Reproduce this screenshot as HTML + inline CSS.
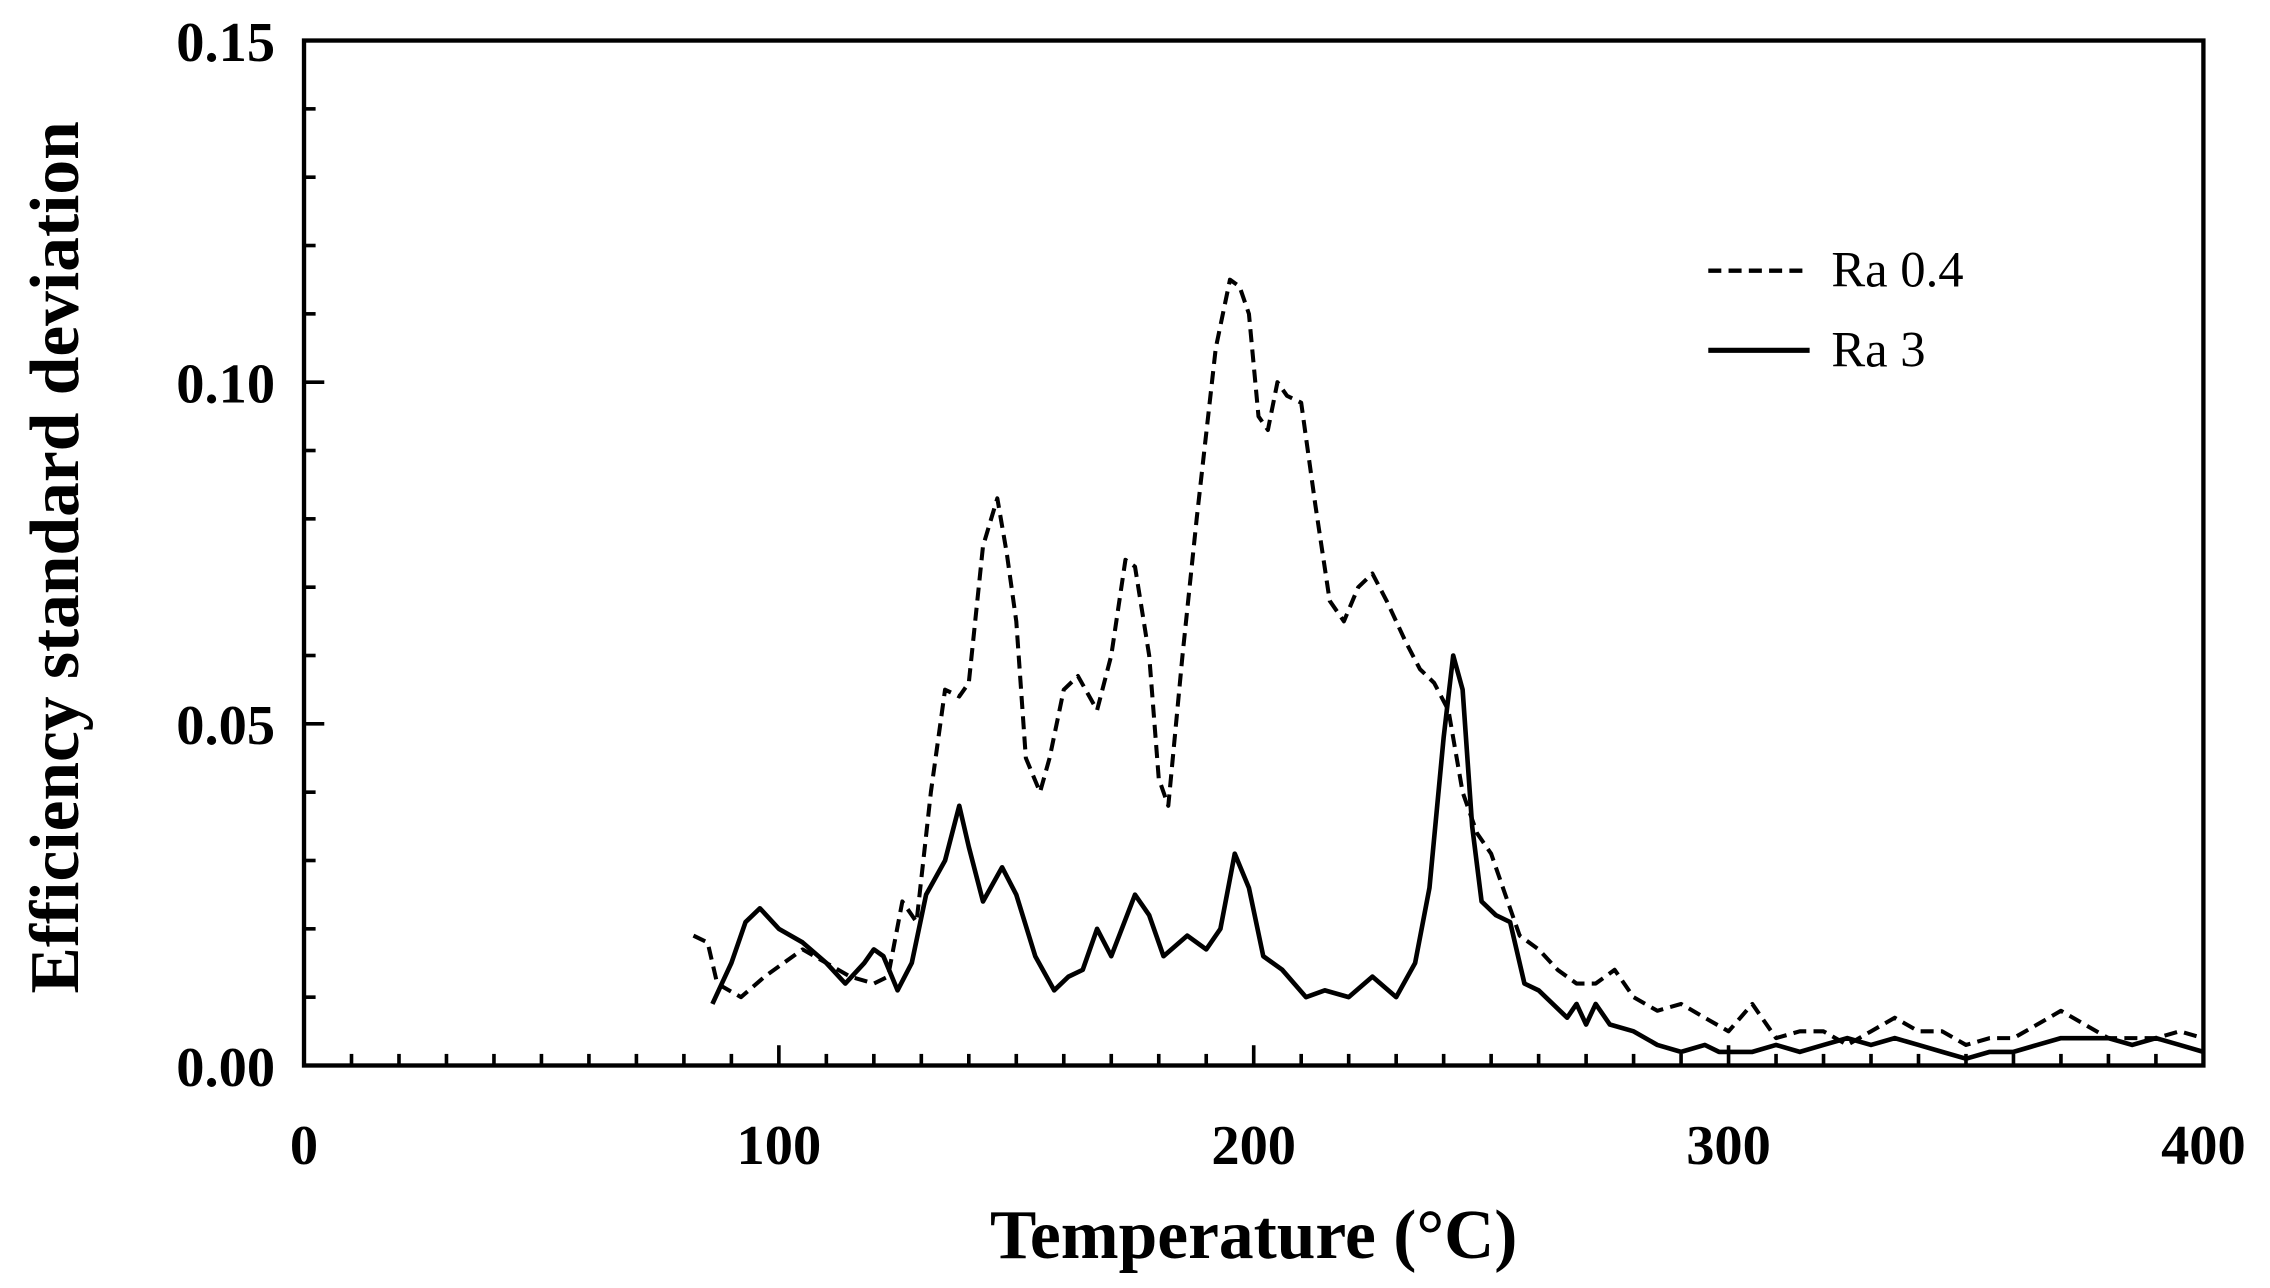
<!DOCTYPE html>
<html><head><meta charset="utf-8"><style>
html,body{margin:0;padding:0;background:#fff;}
svg{display:block;}
</style></head><body>
<svg id="s" width="2270" height="1288" viewBox="0 0 1568 889.7" preserveAspectRatio="none" xmlns="http://www.w3.org/2000/svg" font-family="Liberation Serif, serif">
<rect width="1568" height="890" fill="#fff"/>
<g id="ticks" stroke="#000" stroke-width="2.5"></g>
<rect x="210" y="28" width="1312" height="708" fill="none" stroke="#000" stroke-width="3"/>
<g font-weight="bold" font-size="39" text-anchor="end">
<text x="190" y="750">0.00</text>
<text x="190" y="514">0.05</text>
<text x="190" y="278">0.10</text>
<text x="190" y="42">0.15</text>
</g>
<g font-weight="bold" font-size="39" text-anchor="middle">
<text x="210" y="804">0</text>
<text x="538" y="804">100</text>
<text x="866" y="804">200</text>
<text x="1194" y="804">300</text>
<text x="1522" y="804">400</text>
</g>
<text x="866" y="869" font-weight="bold" font-size="48" text-anchor="middle">Temperature (°C)</text>
<text transform="translate(54,385) rotate(-90)" font-weight="bold" font-size="48" text-anchor="middle">Efficiency standard deviation</text>
<line x1="1180" y1="187" x2="1250" y2="187" stroke="#000" stroke-width="3" stroke-dasharray="9,5"/>
<text x="1265" y="198" font-size="35">Ra 0.4</text>
<line x1="1180" y1="242" x2="1250" y2="242" stroke="#000" stroke-width="3.5"/>
<text x="1265" y="253" font-size="35">Ra 3</text>
<polyline id="d" fill="none" stroke="#000" stroke-width="2.8" stroke-dasharray="9,5" stroke-linejoin="round"/>
<polyline id="l" fill="none" stroke="#000" stroke-width="3.2" stroke-linejoin="round"/>
</svg>
<script>
var X=function(t){return 210+t*3.28},Y=function(v){return 736-v*4720};
var d=[82,.019,85,.018,87,.012,92,.010,97,.013,105,.017,110,.015,115,.013,120,.012,123,.013,126,.024,129,.021,132,.040,135,.055,138,.054,140,.056,143,.076,146,.083,148,.075,150,.065,152,.045,155,.040,157,.045,160,.055,163,.057,167,.052,170,.060,173,.074,175,.073,178,.060,180,.042,182,.038,185,.060,188,.080,192,.105,195,.115,197,.114,199,.110,201,.095,203,.093,205,.100,207,.098,210,.097,213,.082,216,.068,219,.065,222,.070,225,.072,228,.068,232,.062,235,.058,238,.056,241,.052,244,.040,247,.034,250,.031,253,.025,256,.019,260,.017,264,.014,268,.012,272,.012,276,.014,280,.010,285,.008,290,.009,295,.007,300,.005,305,.009,310,.004,315,.005,320,.005,325,.003,330,.005,335,.007,340,.005,345,.005,350,.003,355,.004,360,.004,365,.006,370,.008,375,.006,380,.004,385,.004,390,.004,395,.005,400,.004];
var l=[86,.009,88,.012,90,.015,93,.021,96,.023,100,.020,105,.018,110,.015,114,.012,118,.015,120,.017,122,.016,125,.011,128,.015,131,.025,135,.030,138,.038,140,.032,143,.024,147,.029,150,.025,154,.016,158,.011,161,.013,164,.014,167,.020,170,.016,175,.025,178,.022,181,.016,186,.019,190,.017,193,.020,196,.031,199,.026,202,.016,206,.014,211,.010,215,.011,220,.010,225,.013,230,.010,234,.015,237,.026,240,.048,242,.060,244,.055,246,.035,248,.024,251,.022,254,.021,257,.012,260,.011,263,.009,266,.007,268,.009,270,.006,272,.009,275,.006,280,.005,285,.003,290,.002,295,.003,298,.002,300,.002,305,.002,310,.003,315,.002,320,.003,325,.004,330,.003,335,.004,340,.003,345,.002,350,.001,355,.002,360,.002,365,.003,370,.004,375,.004,380,.004,385,.003,390,.004,395,.003,400,.002];
function pts(a){var s=[];for(var i=0;i<a.length;i+=2)s.push(X(a[i]).toFixed(1)+","+Y(a[i+1]).toFixed(1));return s.join(" ");}
document.getElementById("d").setAttribute("points",pts(d));
document.getElementById("l").setAttribute("points",pts(l));
var g=document.getElementById("ticks"),h="";
for(var t=0;t<=400;t+=10){var x=X(t);h+='<line x1="'+x+'" y1="736" x2="'+x+'" y2="'+(t%100==0?722:728)+'"/>';}
for(var v=0;v<=15;v++){var y=Y(v/100);h+='<line x1="210" y1="'+y+'" x2="'+(v%5==0?224:218)+'" y2="'+y+'"/>';}
g.innerHTML=h;
</script>
</body></html>
